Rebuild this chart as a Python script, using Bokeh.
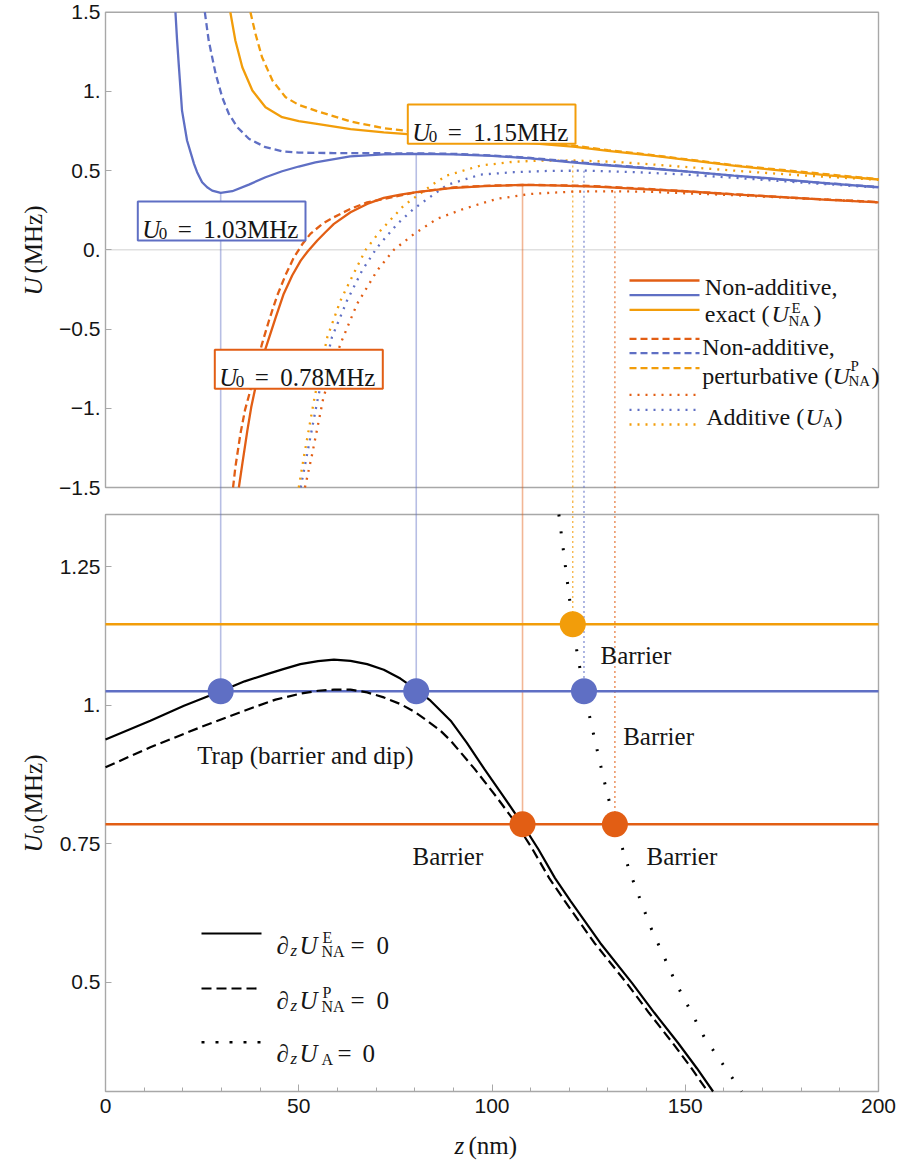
import numpy as np
from bokeh.plotting import figure
from bokeh.models import Range1d, FixedTicker, Label, BoxAnnotation, ColumnDataSource
from bokeh.embed import file_html
from bokeh.resources import INLINE

# ------------------------------------------------------------------ data
# Top panel: potential U(z) in MHz for three trap depths U0
z_exact_103 = [18.1, 18.5, 19.0, 19.8, 21.1, 22.9, 23.7, 25.0, 26.3, 27.6, 29.8, 32.8, 37.1, 41.4,
               45.7, 50.0, 54.3, 63.3, 72.0, 80.4, 90, 100, 110, 120, 128, 140, 150, 162.6, 175,
               187, 200]
U_exact_103 = [1.5, 1.33, 1.153, 0.879, 0.69, 0.543, 0.49, 0.427, 0.395, 0.374, 0.36, 0.37, 0.412,
               0.458, 0.496, 0.526, 0.552, 0.59, 0.603, 0.606, 0.603, 0.593, 0.577, 0.554, 0.537,
               0.515, 0.495, 0.469, 0.445, 0.42, 0.395]
z_pert_103 = [25.7, 26.7, 28.5, 30.2, 31.9, 34.1, 37.1, 41.4, 45.7, 50.0, 54.3, 59.0, 67.7, 80.4,
              90, 100, 110, 120, 130, 140, 160, 180, 200]
U_pert_103 = [1.5, 1.321, 1.111, 0.963, 0.859, 0.774, 0.701, 0.648, 0.622, 0.614, 0.612, 0.611,
              0.61, 0.609, 0.606, 0.596, 0.58, 0.558, 0.536, 0.518, 0.473, 0.432, 0.397]
z_add_103 = [50.5, 52.0, 55.0, 58.6, 62.5, 66.4, 70.3, 75.5, 79.8, 83.2, 88.4, 97.0, 105.6, 114.3,
             123.8, 137.6, 150, 162.6, 180, 200]
U_add_103 = [-1.5, -1.31, -0.93, -0.55, -0.32, -0.13, 0.016, 0.164, 0.26, 0.32, 0.41, 0.475, 0.49,
             0.498, 0.50, 0.49, 0.475, 0.455, 0.425, 0.393]

z_exact_115 = [32.3, 33.6, 35.4, 38.0, 41.4, 45.7, 50.0, 54.7, 63.4, 72.0, 78.1, 90, 100, 110,
               121.6, 130, 141, 152, 163, 175, 187, 200]
U_exact_115 = [1.5, 1.321, 1.153, 1.006, 0.90, 0.837, 0.812, 0.795, 0.762, 0.742, 0.73, 0.71,
               0.693, 0.673, 0.65, 0.625, 0.596, 0.563, 0.53, 0.5, 0.47, 0.444]
z_pert_115 = [37.5, 38.8, 40.5, 43.2, 46.6, 50.0, 54.7, 63.4, 72.0, 78.1, 90, 100, 110, 121.6, 130,
              141, 163, 200]
U_pert_115 = [1.5, 1.364, 1.216, 1.069, 0.963, 0.915, 0.876, 0.81, 0.768, 0.75, 0.724, 0.704,
              0.682, 0.656, 0.63, 0.6, 0.533, 0.446]
z_add_115 = [50.0, 51.3, 54.1, 57.4, 60.8, 64.2, 67.3, 71.1, 77.2, 84.9, 88.4, 97.0, 105.6, 112.5,
             121.2, 131.5, 141, 162.6, 180, 200]
U_add_115 = [-1.5, -1.31, -0.93, -0.55, -0.32, -0.15, 0.0, 0.12, 0.28, 0.417, 0.47, 0.532, 0.556,
             0.563, 0.564, 0.556, 0.54, 0.50, 0.47, 0.442]

z_exact_078 = [34.5, 35.4, 36.7, 37.7, 38.8, 41.3, 44.0, 46.1, 48.3, 50.5, 52.3, 54.8, 56.9, 59.1,
               63.4, 67.7, 72, 76.3, 80.5, 89.3, 98, 107.8, 118, 128, 137.6, 150, 162.6, 175, 187,
               200]
U_exact_078 = [-1.5, -1.351, -1.141, -0.994, -0.867, -0.631, -0.43, -0.278, -0.162, -0.068, -0.01,
               0.059, 0.111, 0.164, 0.237, 0.29, 0.328, 0.349, 0.364, 0.389, 0.402, 0.41, 0.406,
               0.397, 0.385, 0.37, 0.35, 0.333, 0.316, 0.30]
z_pert_078 = [33.0, 33.6, 34.9, 36.1, 37.5, 38.8, 40.5, 42.3, 44.4, 46.6, 48.7, 50.9, 53.0, 56.1,
              59.1, 63.4, 67.7, 80.5, 90, 100, 110, 125, 140, 160, 180, 200]
U_pert_078 = [-1.5, -1.372, -1.162, -1.01, -0.885, -0.755, -0.593, -0.446, -0.29, -0.158, -0.05,
              0.035, 0.101, 0.164, 0.206, 0.259, 0.30, 0.364, 0.394, 0.406, 0.41, 0.404, 0.385,
              0.355, 0.326, 0.302]
z_add_078 = [51.6, 53.3, 56.4, 60.8, 65.1, 70.3, 74.6, 79.8, 85.8, 92.7, 101.3, 110, 121.2, 131.5,
             140, 162.6, 180, 200]
U_add_078 = [-1.5, -1.31, -0.93, -0.593, -0.341, -0.13, 0.0, 0.1, 0.196, 0.259, 0.322, 0.353,
             0.368, 0.37, 0.367, 0.345, 0.325, 0.30]

# Bottom panel: loci of dU/dz = 0 as U0(z)
z_dE = [0, 11.6, 20.3, 29.8, 36.0, 41.8, 46.0, 50.4, 55.0, 59.1, 63.4, 67.7, 72.0, 76.3, 80.4,
        84.1, 89.3, 93.5, 98, 103, 107.9, 112, 116.3, 120.3, 128, 136.3, 142, 148.2, 153, 157.2]
U0_dE = [0.938, 0.972, 0.999, 1.025, 1.043, 1.056, 1.065, 1.074, 1.0795, 1.082, 1.080, 1.074,
         1.064, 1.048, 1.028, 1.008, 0.972, 0.932, 0.885, 0.835, 0.785, 0.74, 0.688, 0.647, 0.571,
         0.498, 0.445, 0.39, 0.345, 0.303]
z_dP = [0, 11.6, 24.5, 37.5, 44.0, 50.5, 55.0, 59.1, 63.4, 67.7, 72.0, 76.3, 80.0, 83.2, 86.5,
        89.3, 95.5, 101.0, 106.4, 110.5, 114.8, 118.8, 126.5, 134.9, 140.6, 146.8, 151.6, 155.8]
U0_dP = [0.888, 0.924, 0.96, 0.994, 1.01, 1.021, 1.026, 1.028, 1.028, 1.023, 1.014, 1.002, 0.988,
         0.972, 0.955, 0.936, 0.885, 0.836, 0.785, 0.74, 0.688, 0.647, 0.571, 0.498, 0.445, 0.39,
         0.345, 0.303]
z_dA = [117.3, 119.0, 120.9, 121.9, 123.8, 126.2, 128.8, 131.8, 135.6, 141.0, 147.5, 155.0, 164.6]
U0_dA = [1.344, 1.25, 1.146, 1.10, 1.025, 0.95, 0.87, 0.785, 0.70, 0.60, 0.50, 0.40, 0.303]

# Trap depths (horizontal lines in the bottom panel)
U0_levels = [1.146, 1.025, 0.785]
level_names = ["orange", "blue", "red"]

# Extremum points: exact (solid link) and additive (dotted link)
ext_z_exact = [29.8, 80.4, 107.9]
ext_U_exact = [0.36, 0.606, 0.41]
ext_U0_exact = [1.025, 1.025, 0.785]
ext_c_exact = ["blue", "blue", "red"]
ext_z_add = [120.9, 123.8, 131.8]
ext_U_add = [0.564, 0.50, 0.37]
ext_U0_add = [1.146, 1.025, 0.785]
ext_c_add = ["orange", "blue", "red"]

# tick labels
x_major_ticks = [0, 50, 100, 150, 200]
x_minor_ticks = [v for v in range(10, 200, 10) if v % 50]
top_ticks = [-1.5, -1.0, -0.5, 0.0, 0.5, 1.0, 1.5]
top_tick_labels = ["\u22121.5", "\u22121.", "\u22120.5", "0.", "0.5", "1.", "1.5"]
bot_ticks = [0.5, 0.75, 1.0, 1.25]
bot_tick_labels = ["0.5", "0.75", "1.", "1.25"]

# ------------------------------------------------------------------ style / layout
SERIF = "Liberation Serif"
SANS = "Liberation Sans"
COL = {"red": "#E25E14", "blue": "#5F6FC4", "orange": "#F29D0A"}
GRAY = "#A8A8A8"
INK = "#151515"

X_MIN, X_MAX = 0, 200
U_MIN, U_MAX = -1.5, 1.5
U0_MIN, U0_MAX = 0.303, 1.344

CANVAS_W, CANVAS_H = 896, 1160
PX_X0, PX_X1 = 105.0, 878.0          # z = 0, z = 200
PX_T0, PX_T1 = 11.7, 487.0           # top panel: U = 1.5, U = -1.5
PX_B0, PX_B1 = 514.0, 1091.0         # bottom panel: U0 max, U0 min
kx = (PX_X1 - PX_X0) / (X_MAX - X_MIN)
k_top = (PX_T1 - PX_T0) / (U_MAX - U_MIN)
k_bot = (PX_B1 - PX_B0) / (U0_MAX - U0_MIN)


def zx(px):
    return X_MIN + (px - PX_X0) / kx


def tu(py):
    return U_MAX - (py - PX_T0) / k_top


def bu(py):
    return U0_MIN + (PX_B1 - py) / k_bot


x_range = Range1d(zx(0), zx(CANVAS_W))
top_range = Range1d(tu(CANVAS_H), tu(0))
bot_range = Range1d(bu(CANVAS_H), bu(0))
PX_GAP = 0.5 * (PX_T1 + PX_B0)
U_gap = tu(PX_GAP)
U0_gap = bu(PX_GAP)

p = figure(frame_width=CANVAS_W, frame_height=CANVAS_H, x_range=x_range, y_range=top_range,
           output_backend="svg", toolbar_location=None,
           min_border_left=0, min_border_right=0, min_border_top=0, min_border_bottom=0)
p.extra_y_ranges = {"bot": bot_range}
p.outline_line_color = None
p.xgrid.visible = False
p.ygrid.visible = False
p.title.visible = False
p.background_fill_color = "white"
p.border_fill_color = "white"

# left axis at z = 0, carrying both panels' ticks
bot_tick_pos = [tu(PX_B1 - (t - U0_MIN) * k_bot) for t in bot_ticks]
ya = p.yaxis[0]
ya.fixed_location = X_MIN
ya.ticker = FixedTicker(ticks=top_ticks + bot_tick_pos, minor_ticks=[])
ya.major_label_overrides = {float(k): v for k, v in
                            zip(top_ticks + bot_tick_pos, top_tick_labels + bot_tick_labels)}
ya.axis_line_color = None
ya.major_tick_in = 6
ya.major_tick_out = 0
ya.major_tick_line_color = GRAY
ya.minor_tick_line_color = None
ya.major_label_text_font = SANS
ya.major_label_text_font_size = "21px"
ya.major_label_text_color = INK
ya.major_label_standoff = 5

# bottom axis along the lower panel's bottom edge
xa = p.xaxis[0]
xa.fixed_location = tu(PX_B1)
xa.ticker = FixedTicker(ticks=x_major_ticks, minor_ticks=x_minor_ticks)
xa.axis_line_color = None
xa.major_tick_line_color = GRAY
xa.minor_tick_line_color = GRAY
xa.major_tick_in = 7
xa.major_tick_out = 0
xa.minor_tick_in = 4
xa.minor_tick_out = 0
xa.major_label_text_font = SANS
xa.major_label_text_font_size = "21px"
xa.major_label_text_color = INK
xa.major_label_standoff = 7

# panel frames and zero line
p.quad(left=[X_MIN], right=[X_MAX], bottom=[U_MIN], top=[U_MAX], fill_color=None,
       line_color=GRAY, line_width=1.4)
p.quad(left=[X_MIN], right=[X_MAX], bottom=[U0_MIN], top=[U0_MAX], fill_color=None,
       line_color=GRAY, line_width=1.4, y_range_name="bot")
p.segment(x0=[X_MIN], y0=[0.0], x1=[X_MAX], y1=[0.0], line_color="#D0D0D0", line_width=1)

# vertical links from top-panel extrema to bottom-panel points
for zs, us, u0s, cs, dash, alpha, lw in [
        (ext_z_exact, ext_U_exact, ext_U0_exact, ext_c_exact, "solid", 0.45, 1.6),
        (ext_z_add, ext_U_add, ext_U0_add, ext_c_add, "2 3", 0.85, 1.2)]:
    src = ColumnDataSource(dict(z=zs, u=us, u0=u0s, ug=[U_gap] * len(zs), u0g=[U0_gap] * len(zs),
                                c=[COL[c] for c in cs]))
    p.segment(x0="z", y0="u", x1="z", y1="ug", source=src, line_color="c", line_alpha=alpha,
              line_width=lw, line_dash=dash)
    p.segment(x0="z", y0="u0g", x1="z", y1="u0", source=src, line_color="c", line_alpha=alpha,
              line_width=lw, line_dash=dash, y_range_name="bot")

# top panel curves
curves = [
    (z_add_078, U_add_078, "red", "2 6"), (z_add_103, U_add_103, "blue", "2 6"),
    (z_add_115, U_add_115, "orange", "2 6"),
    (z_pert_078, U_pert_078, "red", "7 4"), (z_pert_103, U_pert_103, "blue", "7 4"),
    (z_pert_115, U_pert_115, "orange", "7 4"),
    (z_exact_078, U_exact_078, "red", "solid"), (z_exact_103, U_exact_103, "blue", "solid"),
    (z_exact_115, U_exact_115, "orange", "solid"),
]
for zs, us, c, dash in curves:
    p.line(zs, us, line_color=COL[c], line_width=2.3, line_dash=dash)

# bottom panel: trap-depth levels
lev_src = ColumnDataSource(dict(x0=[X_MIN] * 3, x1=[X_MAX] * 3, y=U0_levels,
                                c=[COL[c] for c in level_names]))
p.segment(x0="x0", y0="y", x1="x1", y1="y", source=lev_src, line_color="c", line_width=2.5,
          y_range_name="bot")

p.line(z_dE, U0_dE, line_color="black", line_width=2.2, y_range_name="bot")
p.line(z_dP, U0_dP, line_color="black", line_width=2.2, line_dash="10 5", y_range_name="bot")
p.line(z_dA, U0_dA, line_color="black", line_width=3, line_dash="2 15", y_range_name="bot")

pts = ColumnDataSource(dict(z=ext_z_exact + ext_z_add, u0=ext_U0_exact + ext_U0_add,
                            c=[COL[c] for c in ext_c_exact + ext_c_add]))
p.scatter("z", "u0", source=pts, size=26, fill_color="c", line_color=None, y_range_name="bot")

# ------------------------------------------------------------------ legend line samples
lx0, lx1 = zx(629), zx(699)
leg_rows = [(280, "red", "solid"), (294.7, "blue", "solid"), (309.3, "orange", "solid"),
            (338.3, "red", "7 4"), (352.7, "blue", "7 4"), (367.7, "orange", "7 4"),
            (394.3, "red", "2 6"), (409.3, "blue", "2 6"), (424, "orange", "2 6")]
for py, c, dash in leg_rows:
    p.segment(x0=[lx0], y0=[tu(py)], x1=[lx1], y1=[tu(py)], line_color=COL[c], line_width=2.3,
              line_dash=dash)

bx0, bx1 = zx(201), zx(261)
for py, dash in [(933, "solid"), (988, "10 5"), (1041.7, "3 11")]:
    p.segment(x0=[bx0], y0=[bu(py)], x1=[bx1], y1=[bu(py)], line_color="black",
              line_width=2.6 if dash == "3 11" else 2.2, line_dash=dash, y_range_name="bot")


# ------------------------------------------------------------------ text
def lab(px, py, text, panel="top", size=25, style="normal", angle=0.0, font=SERIF):
    if panel == "top":
        y, kw = tu(py), {}
    else:
        y, kw = bu(py), {"y_range_name": "bot"}
    p.add_layout(Label(x=zx(px), y=y, text=text, text_font=font, text_font_size=f"{size}px",
                       text_font_style=style, text_align="left", text_baseline="alphabetic",
                       angle=angle, text_color=INK, **kw))


# boxed U0 labels in the top panel
for (bl, bt, br, bb), c, val in [((137.3, 201, 305, 240), "blue", "1.03MHz"),
                                 ((214.3, 349.3, 382.3, 388.3), "red", "0.78MHz"),
                                 ((407.3, 104, 575, 143.3), "orange", "1.15MHz")]:
    p.add_layout(BoxAnnotation(left=zx(bl), right=zx(br), top=tu(bt), bottom=tu(bb),
                               fill_color="white", fill_alpha=1.0, line_color=COL[c],
                               line_width=2, line_alpha=1.0))
    base = bt + 28
    lab(bl + 4.5, base, "U", style="italic")
    lab(bl + 21, base + 4, "0", size=17)
    lab(bl + 40, base, "=")
    lab(bl + 65.5, base, val)

# top legend text
lab(704.3, 286, "Non-additive,", size=24)
lab(704.3, 313.3, "exact (", size=24)
lab(771, 313.3, "U", size=24, style="italic")
lab(791, 307, "E", size=15)
lab(788, 320, "NA", size=15)
lab(813, 313.3, ")", size=24)
lab(701.7, 346.7, "Non-additive,", size=24)
lab(701.7, 375, "perturbative (", size=24)
lab(832, 375, "U", size=24, style="italic")
lab(850, 365, "P", size=15)
lab(848, 380, "NA", size=15)
lab(871, 375, ")", size=24)
lab(705.7, 416, "Additive (", size=24)
lab(805, 416, "U", size=24, style="italic")
lab(822, 421, "A", size=15)
lab(834, 416, ")", size=24)

# bottom panel text
lab(196.7, 755, "Trap (barrier and dip)", panel="bot")
lab(600, 655, "Barrier", panel="bot")
lab(622.7, 736, "Barrier", panel="bot")
lab(646, 856, "Barrier", panel="bot")
lab(412, 856, "Barrier", panel="bot")

# bottom legend text
for base, sup, sub, eq_x, zero_x in [(945, "E", "NA", 350, 376), (999.5, "P", "NA", 350, 376),
                                     (1053, None, "A", 337, 362)]:
    lab(276, base, "\u2202", panel="bot")
    lab(290, base + 5, "z", panel="bot", size=17, style="italic")
    lab(299, base, "U", panel="bot", style="italic")
    if sup:
        lab(322, base - 8, sup, panel="bot", size=16)
    lab(321, base + 6, sub, panel="bot", size=16)
    lab(eq_x, base, "=", panel="bot")
    lab(zero_x, base, "0", panel="bot")

# axis titles
VERT = np.pi / 2
lab(33, 295, "U", style="italic", angle=VERT)
lab(33, 273, "(MHz)", angle=VERT)
lab(33, 852, "U", panel="bot", style="italic", angle=VERT)
lab(37.5, 833, "0", panel="bot", size=17, angle=VERT)
lab(33, 822, "(MHz)", panel="bot", angle=VERT)
lab(454, 1145, "z", panel="bot", style="italic")
lab(468, 1145, "(nm)", panel="bot")

open("out.html", "w").write(file_html(p, INLINE))
